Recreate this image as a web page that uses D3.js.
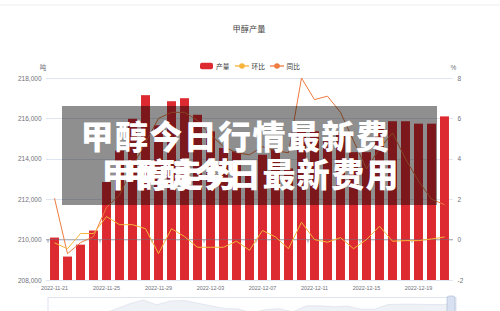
<!DOCTYPE html>
<html>
<head>
<meta charset="utf-8">
<script src="https://cdn.jsdelivr.net/npm/d3@7"></script>
<style>
body { margin: 0; background: #fff; }
svg { display: block; font-family: "Liberation Sans", Arial, "Noto Sans CJK SC", sans-serif; }
</style>
</head>
<body>
<svg id="chart" width="500" height="311"></svg>
<script>
var dates = ['2022-11-21', '2022-11-22', '2022-11-23', '2022-11-24', '2022-11-25', '2022-11-26', '2022-11-27', '2022-11-28',
    '2022-11-29', '2022-11-30', '2022-12-01', '2022-12-02', '2022-12-03', '2022-12-04', '2022-12-05', '2022-12-06',
    '2022-12-07', '2022-12-08', '2022-12-09', '2022-12-10', '2022-12-11', '2022-12-12', '2022-12-13', '2022-12-14',
    '2022-12-15', '2022-12-16', '2022-12-17', '2022-12-18', '2022-12-19', '2022-12-20', '2022-12-21'];
var output = [210100, 209160, 209750, 210450, 212850, 214400, 215980, 217150, 215660, 216850, 217000, 216180, 215360,
    214540, 214370, 213240, 214200, 214480, 213520, 215360, 215360, 215080, 215300, 214330, 214330, 215750, 215860,
    215860, 215740, 215740, 216100];
var mom = [-0.16, -0.45, 0.3, 0.3, 1.14, 0.74, 0.74, 0.54, -0.69, 0.54, 0.15, -0.38, -0.38, -0.38, -0.08, -0.53,
    0.45, 0.13, -0.45, 0.86, 0, -0.13, 0.1, -0.45, 0, 0.66, -0.08, -0.05, -0.05, 0.03, 0.13];
var yoy = [2.05, -0.7, -0.15, 0.15, 1.6, 2.2, 3.6, 4.8, 6.0, 6.3, 6.3, 5.9, 5.2, 4.6, 4.3, 4.2, 4.6, 4.4, 4.3,
    8.0, 6.93, 7.1, 6.3, 4.9, 3.5, 4.5, 5.28, 4.0, 2.9, 2.0, 1.73];
var leftTicks = [208000, 210000, 212000, 214000, 216000, 218000];
var rightTicks = [-2, 0, 2, 4, 6, 8];
var legendItems = ['产量', '环比', '同比'];

var red = '#dd2a31', yellow = '#f7b43a', orange = '#ee7b3f';
var svg = d3.select('#chart');

var x = d3.scaleBand().domain(dates).range([46, 453]).padding(0.31);
var yL = d3.scaleLinear().domain([208000, 218000]).range([280, 78]);
var yR = d3.scaleLinear().domain([-2, 8]).range([280, 78]);

svg.append('line').attr('x1', 0).attr('x2', 500).attr('y1', 5).attr('y2', 5)
    .attr('stroke', '#eceef2').attr('stroke-width', 1);

svg.append('text').attr('x', 249).attr('y', 29).attr('text-anchor', 'middle')
    .attr('dominant-baseline', 'central').attr('font-size', 8.2).attr('fill', '#464646')
    .text('甲醇产量');

// legend
var lg = svg.append('g');
lg.append('rect').attr('x', 200).attr('y', 62.7).attr('width', 13).attr('height', 6.6).attr('rx', 2).attr('fill', red);
lg.append('text').attr('x', 216).attr('y', 66).attr('font-size', 6.7).attr('dominant-baseline', 'central')
    .attr('fill', '#333').text(legendItems[0]);
[[235, yellow, legendItems[1], 251.5], [270, orange, legendItems[2], 286.5]].forEach(function(d) {
    lg.append('line').attr('x1', d[0]).attr('x2', d[0] + 14).attr('y1', 66).attr('y2', 66)
        .attr('stroke', d[1]).attr('stroke-width', 1.3);
    lg.append('circle').attr('cx', d[0] + 7).attr('cy', 66).attr('r', 2.8).attr('fill', d[1]);
    lg.append('text').attr('x', d[3]).attr('y', 66).attr('font-size', 6.7).attr('dominant-baseline', 'central')
        .attr('fill', '#333').text(d[2]);
});

svg.append('text').attr('x', 43).attr('y', 67).attr('text-anchor', 'middle').attr('dominant-baseline', 'central')
    .attr('font-size', 6.5).attr('fill', '#6e7079').text('吨');
svg.append('text').attr('x', 453.5).attr('y', 67).attr('text-anchor', 'middle').attr('dominant-baseline', 'central')
    .attr('font-size', 6.5).attr('fill', '#6e7079').text('%');

// grid
svg.append('g').selectAll('line').data(leftTicks).enter().append('line')
    .attr('x1', 46).attr('x2', 453)
    .attr('y1', function(d) { return Math.round(yL(d)) + 0.5; })
    .attr('y2', function(d) { return Math.round(yL(d)) + 0.5; })
    .attr('stroke', '#e0e6f1').attr('stroke-width', 1);

svg.append('g').selectAll('text').data(leftTicks).enter().append('text')
    .attr('x', 41.5).attr('y', function(d) { return yL(d); })
    .attr('text-anchor', 'end').attr('dominant-baseline', 'central')
    .attr('font-size', 6.5).attr('fill', '#6e7079')
    .text(function(d) { return d3.format(',')(d); });

svg.append('g').selectAll('text').data(rightTicks).enter().append('text')
    .attr('x', 457.5).attr('y', function(d) { return yR(d); })
    .attr('dominant-baseline', 'central')
    .attr('font-size', 6.5).attr('fill', '#6e7079')
    .text(function(d) { return d; });

// bars
svg.append('g').selectAll('rect').data(output).enter().append('rect')
    .attr('x', function(d, i) { return x(dates[i]); })
    .attr('width', x.bandwidth())
    .attr('y', function(d) { return yL(d); })
    .attr('height', function(d) { return yL(208000) - yL(d); })
    .attr('fill', red);

// x axis sits on the zero of the right axis
var step = x.step();
svg.append('line').attr('x1', 46).attr('x2', 453).attr('y1', yR(0)).attr('y2', yR(0))
    .attr('stroke', '#6e7079').attr('stroke-width', 0.7).attr('opacity', 0.8);
svg.append('g').selectAll('line').data(dates.filter(function(d, i) { return i % 4 == 0; })).enter().append('line')
    .attr('x1', function(d) { return x(d) - x.paddingInner() * step / 2; })
    .attr('x2', function(d) { return x(d) - x.paddingInner() * step / 2; })
    .attr('y1', yR(0)).attr('y2', yR(0) + 3)
    .attr('stroke', '#6e7079').attr('stroke-width', 0.7);

svg.append('g').selectAll('text').data(dates.filter(function(d, i) { return i % 4 == 0; })).enter().append('text')
    .attr('x', function(d) { return x(d) + x.bandwidth() / 2; })
    .attr('y', 288)
    .attr('text-anchor', 'middle').attr('dominant-baseline', 'central')
    .attr('font-size', 5.4).attr('fill', '#6e7079')
    .text(function(d) { return d; });

// lines
var line = d3.line()
    .x(function(d, i) { return x(dates[i]) + x.bandwidth() / 2; })
    .y(function(d) { return yR(d); });

svg.append('path').attr('d', line(yoy)).attr('fill', 'none').attr('stroke', orange).attr('stroke-width', 1);
svg.append('path').attr('d', line(mom)).attr('fill', 'none').attr('stroke', yellow).attr('stroke-width', 1);

// data zoom slider
var ys = d3.scaleLinear().domain(d3.extent(output)).range([326, 300]);
var area = d3.area()
    .x(function(d, i) { return 48 + i * (408 / (output.length - 1)); })
    .y0(327).y1(function(d) { return ys(d); });
svg.append('path').attr('d', area(output)).attr('fill', '#eef1f6');
svg.append('path').attr('d', area.lineY1()(output)).attr('fill', 'none').attr('stroke', '#d6dce6').attr('stroke-width', 0.6);
svg.append('rect').attr('x', 48).attr('y', 297.5).attr('width', 408).attr('height', 30)
    .attr('fill', 'none').attr('stroke', '#dde3ef').attr('stroke-width', 1);
svg.append('rect').attr('x', 447).attr('y', 296).attr('width', 8).attr('height', 20).attr('rx', 2)
    .attr('fill', '#d8e1f1').attr('stroke', '#a7b7cc').attr('stroke-width', 0.6);

// banner on top
svg.append('rect').attr('x', 62).attr('y', 106).attr('width', 375).attr('height', 99)
    .attr('fill', 'rgba(0,0,0,0.44)');

var banner = svg.append('g').attr('font-family', '"Noto Sans CJK SC", sans-serif')
    .attr('font-weight', 900).attr('font-size', 33).attr('fill', '#fff')
    .attr('letter-spacing', 1.4).attr('dominant-baseline', 'central');
banner.append('text').attr('x', 80.5).attr('y', 135).text('甲醇今日行情最新费');
banner.append('text').attr('x', 101.5).attr('y', 172.5).text('甲醇走势');
banner.append('text').attr('x', 400).attr('y', 172.5).attr('text-anchor', 'end').text('甲醇今日最新费用');
</script>
</body>
</html>
